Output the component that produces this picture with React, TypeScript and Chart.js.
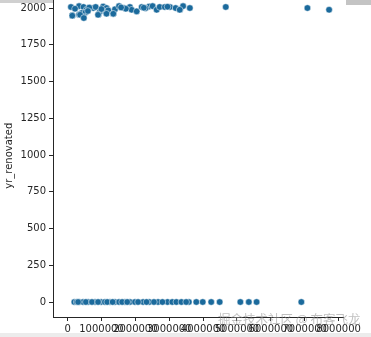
import React, { useEffect, useRef } from "react";
import { Chart, registerables } from "chart.js";

Chart.register(...registerables);

// price (USD) and yr_renovated for each house
const renovatedPrices = [
  100000, 140000, 340000, 340000, 470000, 420000, 560000, 530000, 470000, 760000,
  830000, 910000, 960000, 1050000, 1150000, 1130000, 1200000, 1350000, 1400000, 1520000,
  1670000, 1840000, 1890000, 2040000, 2190000, 2410000, 2510000, 2630000, 2720000, 2870000,
  3020000, 3190000, 3320000, 3410000, 3610000, 4670000, 7080000, 7720000,
  140000, 370000, 480000, 900000, 1150000, 1350000, 3310000, 220000, 640000, 1720000,
  2300000, 600000, 1000000, 1580000, 2250000, 2950000,
];
const renovatedYears = [
  2007, 1948, 2013, 1955, 2007, 1966, 1988, 1970, 1940, 2000,
  2007, 1955, 1977, 2010, 2000, 1970, 1984, 1960, 1992, 2013,
  2000, 2007, 1988, 1977, 2007, 2010, 2013, 1988, 2007, 2007,
  2007, 2000, 1988, 2013, 2000, 2007, 2000, 1988,
  1948, 1954, 1932, 1954, 1961, 1961, 1988, 1995, 2003, 1995,
  1999, 1980, 1993, 2004, 2002, 2009,
];
const notRenovatedPrices = [
  200000, 270000, 350000, 460000, 610000, 810000, 990000, 1100000, 1250000, 1400000,
  1520000, 1690000, 1840000, 1990000, 2230000, 2410000, 2670000, 2950000, 3090000, 3210000,
  3360000, 3580000, 3800000, 3990000, 4240000, 4490000, 5100000, 5350000, 5580000, 6900000,
  310000, 540000, 720000, 900000, 1170000, 1330000, 1610000, 1760000, 2080000, 2330000,
  2550000, 2800000, 3500000,
];
const notRenovatedYears = notRenovatedPrices.map(() => 0);

const xTicks = [0, 1000000, 2000000, 3000000, 4000000, 5000000, 6000000, 7000000, 8000000];
const yTicks = [0, 250, 500, 750, 1000, 1250, 1500, 1750, 2000];

const TEXT = "#262626";
const POINT = "#1b6a9c";
const FONT = { family: "DejaVu Sans", size: 10 };

export default function App() {
  const ref = useRef<HTMLCanvasElement | null>(null);

  useEffect(() => {
    if (!ref.current) return;
    const points = [
      ...renovatedPrices.map((p, i) => ({ x: p, y: renovatedYears[i] })),
      ...notRenovatedPrices.map((p, i) => ({ x: p, y: notRenovatedYears[i] })),
    ];
    const chart = new Chart(ref.current, {
      type: "scatter",
      data: {
        datasets: [
          {
            data: points,
            backgroundColor: POINT,
            borderColor: "#ffffff",
            borderWidth: 0.5,
            pointRadius: 3.3,
            clip: false as any,
          },
        ],
      },
      options: {
        animation: false,
        responsive: false,
        devicePixelRatio: 1,
        layout: { padding: { left: 0, right: 28, top: 0, bottom: 0 } },
        plugins: { legend: { display: false }, tooltip: { enabled: false } },
        scales: {
          x: {
            type: "linear",
            min: -430000,
            max: 8130000,
            afterBuildTicks: (s: any) => {
              s.ticks = xTicks.map((v) => ({ value: v }));
            },
            afterFit: (s: any) => {
              s.height = 20;
              s.paddingLeft = 0;
              s.paddingRight = 0;
            },
            ticks: {
              autoSkip: false,
              maxRotation: 0,
              minRotation: 0,
              color: TEXT,
              font: FONT,
              padding: 2,
              callback: (v: any) => String(v),
            },
            grid: { drawOnChartArea: false, tickLength: 4, tickColor: TEXT, tickWidth: 1 },
            border: { color: TEXT, width: 1 },
          },
          y: {
            type: "linear",
            min: -102,
            max: 2092,
            afterBuildTicks: (s: any) => {
              s.ticks = yTicks.map((v) => ({ value: v }));
            },
            afterFit: (s: any) => {
              s.width = 53;
              s.paddingTop = 0;
              s.paddingBottom = 0;
            },
            ticks: {
              color: TEXT,
              font: FONT,
              padding: 3,
              callback: (v: any) => String(v),
            },
            grid: { drawOnChartArea: false, tickLength: 4, tickColor: TEXT, tickWidth: 1 },
            border: { color: TEXT, width: 1 },
            title: {
              display: true,
              text: "yr_renovated",
              color: TEXT,
              font: FONT,
              padding: { top: 3, bottom: 3 },
            },
          },
        },
      },
    });
    return () => chart.destroy();
  }, []);

  return (
    <div style={{ position: "absolute", left: 0, top: 0, width: 371, height: 337, overflow: "hidden", background: "#fff" }}>
      <div style={{ position: "absolute", left: 0, top: 0, width: 53, height: 3, background: "#d0d0d0" }} />
      <div style={{ position: "absolute", left: 346, top: 0, width: 25, height: 5, background: "#c4c4c4" }} />
      <canvas
        ref={ref}
        width={371}
        height={347}
        style={{ position: "absolute", left: 0, top: -10, width: 371, height: 347 }}
      />
      <div style={{ position: "absolute", left: 0, top: 333, width: 371, height: 4, background: "#ececec" }} />
      <span
        style={{
          position: "absolute",
          left: 218,
          top: 310,
          fontFamily: "'Noto Sans CJK SC', sans-serif",
          fontSize: 12.5,
          lineHeight: "18px",
          color: "rgba(140,140,140,0.55)",
          whiteSpace: "nowrap",
          letterSpacing: 0,
        }}
      >
        掘金技术社区 @ 布客飞龙
      </span>
    </div>
  );
}
